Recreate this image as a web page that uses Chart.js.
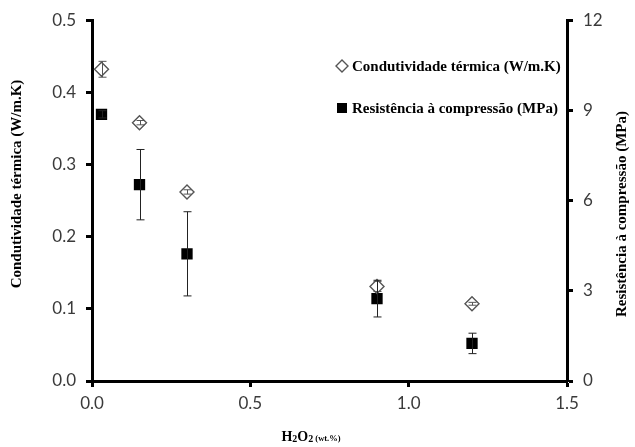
<!DOCTYPE html>
<html>
<head>
<meta charset="utf-8">
<script src="https://cdn.jsdelivr.net/npm/chart.js@4/dist/chart.umd.min.js"></script>
<style>
  html, body { margin: 0; padding: 0; background: #fff; }
  #wrap { width: 635px; height: 447px; position: relative; }
</style>
</head>
<body>
<div id="wrap"><canvas id="c" width="635" height="447"></canvas></div>
<script>
// H2O2 content (wt.%)
const h2o2 = [0.03, 0.15, 0.3, 0.9, 1.2];
// Thermal conductivity (W/m.K) and its standard deviation
const condutividade = [0.432, 0.358, 0.262, 0.131, 0.107];
const condutividadeErro = [0.011, 0.003, 0.003, 0.007, 0.002];
// Compressive strength (MPa) and its standard deviation
const resistencia = [8.87, 6.53, 4.23, 2.74, 1.25];
const resistenciaErro = [0.12, 1.17, 1.40, 0.61, 0.34];

const xTicks = [0.0, 0.5, 1.0, 1.5];
const yLeftTicks = [0.0, 0.1, 0.2, 0.3, 0.4, 0.5];
const yRightTicks = [0, 3, 6, 9, 12];

const labelCond = 'Condutividade térmica (W/m.K)';
const labelRes = 'Resistência à compressão (MPa)';

const tickFont = { family: 'Lato, "Open Sans", sans-serif', size: 17 };
const tickColor = '#3a3a3a';
const serifBold = '"Liberation Serif", "DejaVu Serif", serif';

// Vertical error bars, drawn through each dataset's own scales
const errorBars = {
  id: 'errorBars',
  afterDatasetsDraw(chart) {
    const ctx = chart.ctx;
    chart.data.datasets.forEach((ds, i) => {
      const ys = chart.scales[ds.yAxisID];
      const xs = chart.scales.x;
      ctx.save();
      ctx.strokeStyle = ds.errorColor;
      ctx.lineWidth = 1;
      ds.data.forEach((p, j) => {
        const e = ds.errors[j];
        const px = Math.round(xs.getPixelForValue(p.x)) + 0.5;
        const top = ys.getPixelForValue(p.y + e);
        const bot = ys.getPixelForValue(p.y - e);
        const cap = 4;
        ctx.beginPath();
        ctx.moveTo(px, top); ctx.lineTo(px, bot);
        ctx.moveTo(px - cap, top); ctx.lineTo(px + cap, top);
        ctx.moveTo(px - cap, bot); ctx.lineTo(px + cap, bot);
        ctx.stroke();
      });
      ctx.restore();
    });
  }
};

// Axis titles and the in-plot legend
const annotations = {
  id: 'annotations',
  afterDraw(chart) {
    const ctx = chart.ctx;
    ctx.save();
    ctx.fillStyle = '#000';
    ctx.textBaseline = 'middle';

    // left axis title
    ctx.save();
    ctx.translate(17, 184);
    ctx.rotate(-Math.PI / 2);
    ctx.textAlign = 'center';
    ctx.font = 'bold 15px ' + serifBold;
    ctx.fillText(labelCond, 0, 0);
    ctx.restore();

    // right axis title
    ctx.save();
    ctx.translate(622, 214);
    ctx.rotate(-Math.PI / 2);
    ctx.textAlign = 'center';
    ctx.font = 'bold 15px ' + serifBold;
    ctx.fillText(labelRes, 0, 0);
    ctx.restore();

    // x axis title: H2O2 (wt.%)
    const parts = [
      { t: 'H', f: 'bold 14px ', dy: 0 },
      { t: '2', f: 'bold 10px ', dy: 2 },
      { t: 'O', f: 'bold 14px ', dy: 0 },
      { t: '2', f: 'bold 10px ', dy: 2 },
      { t: ' (wt.%)', f: 'bold 8.5px ', dy: 2 }
    ];
    let total = 0;
    parts.forEach(p => { ctx.font = p.f + serifBold; p.w = ctx.measureText(p.t).width; total += p.w; });
    let x = 311 - total / 2;
    ctx.textAlign = 'left';
    parts.forEach(p => { ctx.font = p.f + serifBold; ctx.fillText(p.t, x, 437 + p.dy); x += p.w; });

    // legend
    ctx.font = 'bold 15px ' + serifBold;
    ctx.textAlign = 'left';
    const lx = 342, ly1 = 66, ly2 = 108;
    ctx.beginPath();
    ctx.moveTo(lx, ly1 - 6); ctx.lineTo(lx + 6, ly1); ctx.lineTo(lx, ly1 + 6); ctx.lineTo(lx - 6, ly1); ctx.closePath();
    ctx.strokeStyle = '#555'; ctx.lineWidth = 1.4; ctx.fillStyle = '#fff';
    ctx.fill(); ctx.stroke();
    ctx.fillStyle = '#000';
    ctx.fillRect(lx - 5, ly2 - 5, 10, 10);
    ctx.fillText(chart.data.datasets[0].label, 352, ly1 + 1);
    ctx.fillText(chart.data.datasets[1].label, 352, ly2 + 1);
    ctx.restore();
  }
};

const toPoints = (xs, ys) => xs.map((x, i) => ({ x: x, y: ys[i] }));

new Chart(document.getElementById('c'), {
  type: 'scatter',
  data: {
    datasets: [
      {
        label: labelCond,
        data: toPoints(h2o2, condutividade),
        errors: condutividadeErro,
        errorColor: '#555',
        yAxisID: 'y',
        pointStyle: 'rectRot',
        pointRadius: 7,
        pointHoverRadius: 7,
        pointBackgroundColor: '#fff',
        pointBorderColor: '#555',
        pointBorderWidth: 1.4
      },
      {
        label: labelRes,
        data: toPoints(h2o2, resistencia),
        errors: resistenciaErro,
        errorColor: '#222',
        yAxisID: 'y1',
        pointStyle: 'rect',
        pointRadius: 8,
        pointHoverRadius: 8,
        pointBackgroundColor: '#000',
        pointBorderColor: '#000',
        pointBorderWidth: 0
      }
    ]
  },
  options: {
    responsive: false,
    animation: false,
    layout: { padding: { top: 19, left: 0, right: 0, bottom: 0 } },
    plugins: { legend: { display: false }, tooltip: { enabled: false } },
    scales: {
      x: {
        type: 'linear',
        min: 0, max: 1.5,
        afterBuildTicks: s => { s.ticks = xTicks.map(v => ({ value: v })); },
        afterFit: s => { s.height = 66; },
        border: { display: true, color: '#000', width: 3 },
        grid: { display: true, drawOnChartArea: false, drawTicks: true, tickLength: 6, tickWidth: 3, tickColor: '#000' },
        ticks: { font: tickFont, color: tickColor, padding: 6, callback: v => v.toFixed(1) }
      },
      y: {
        type: 'linear',
        position: 'left',
        min: 0, max: 0.5,
        afterBuildTicks: s => { s.ticks = yLeftTicks.map(v => ({ value: v })); },
        afterFit: s => { s.width = 92; },
        border: { display: true, color: '#000', width: 3 },
        grid: { display: true, drawOnChartArea: false, drawTicks: true, tickLength: 6, tickWidth: 3, tickColor: '#000' },
        ticks: { font: tickFont, color: tickColor, padding: 10, callback: v => v.toFixed(1) }
      },
      y1: {
        type: 'linear',
        position: 'right',
        min: 0, max: 12,
        afterBuildTicks: s => { s.ticks = yRightTicks.map(v => ({ value: v })); },
        afterFit: s => { s.width = 68; },
        border: { display: true, color: '#000', width: 3 },
        grid: { display: true, drawOnChartArea: false, drawTicks: true, tickLength: 6, tickWidth: 3, tickColor: '#000' },
        ticks: { font: tickFont, color: tickColor, padding: 10, callback: v => String(v) }
      }
    }
  },
  plugins: [errorBars, annotations]
});
</script>
</body>
</html>
